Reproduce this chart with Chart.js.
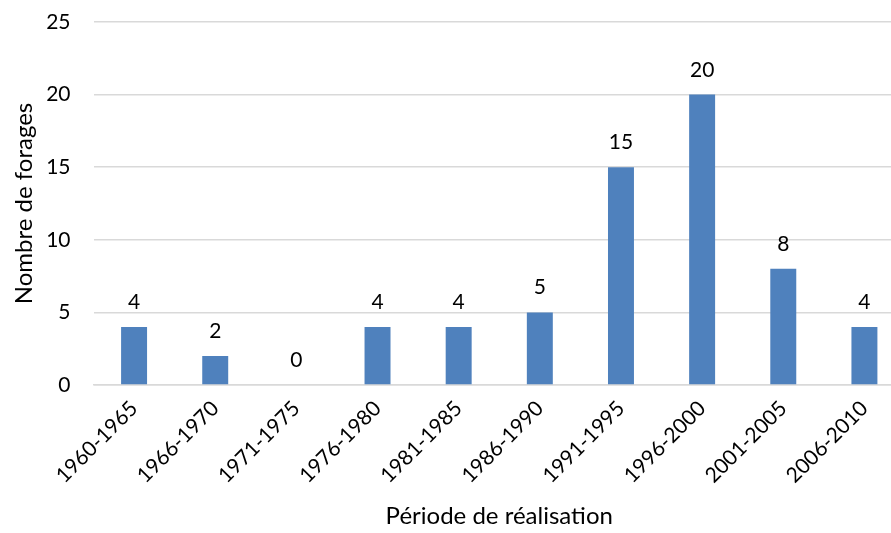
<!DOCTYPE html>
<html>
<head>
<meta charset="utf-8">
<script src="https://cdn.jsdelivr.net/npm/chart.js@4/dist/chart.umd.min.js"></script>
<style>
html,body{margin:0;padding:0;background:#fff;overflow:hidden;}
#wrap{position:absolute;left:0;top:0;width:905px;height:533px;}
</style>
</head>
<body>
<div id="wrap"><canvas id="c" width="905" height="533"></canvas></div>
<script>
const categories = ['1960-1965','1966-1970','1971-1975','1976-1980','1981-1985','1986-1990','1991-1995','1996-2000','2001-2005','2006-2010'];
const forages = [4, 2, 0, 4, 4, 5, 15, 20, 8, 4];
const yTicks = [0, 5, 10, 15, 20, 25];

const FONT = 'Lato, "Open Sans", sans-serif';

const valueLabels = {
  id: 'valueLabels',
  afterDatasetsDraw(chart) {
    const ctx = chart.ctx;
    const meta = chart.getDatasetMeta(0);
    ctx.save();
    ctx.font = '21px ' + FONT;
    ctx.fillStyle = '#000';
    ctx.textAlign = 'center';
    ctx.textBaseline = 'alphabetic';
    meta.data.forEach((bar, i) => {
      ctx.fillText(String(forages[i]), bar.x, bar.y - 18);
    });
    ctx.restore();
  }
};

new Chart(document.getElementById('c'), {
  type: 'bar',
  data: {
    labels: categories,
    datasets: [{
      data: forages,
      backgroundColor: '#4f81bd',
      borderWidth: 0,
      categoryPercentage: 1,
      barPercentage: 0.32
    }]
  },
  plugins: [valueLabels],
  options: {
    responsive: false,
    animation: false,
    events: [],
    layout: { padding: { top: 22, right: 0, left: 0, bottom: 0 } },
    plugins: { legend: { display: false }, tooltip: { enabled: false } },
    scales: {
      x: {
        grid: { display: false, drawTicks: false },
        border: { display: true, color: '#d9d9d9', width: 1.5 },
        ticks: {
          color: '#000',
          font: { family: FONT, size: 21 },
          minRotation: 45,
          maxRotation: 45,
          autoSkip: false,
          padding: 11
        },
        title: {
          display: true,
          text: 'Période de réalisation',
          color: '#000',
          font: { family: FONT, size: 24 },
          padding: { top: 0, bottom: 2 }
        },
        afterFit(s) { s.height = 148; }
      },
      y: {
        min: 0,
        max: 25,
        afterBuildTicks(s) { s.ticks = yTicks.map(v => ({ value: v })); },
        grid: { color: '#d9d9d9', lineWidth: 1.5, drawTicks: false },
        border: { display: false },
        ticks: {
          color: '#000',
          font: { family: FONT, size: 21 },
          padding: 23
        },
        title: {
          display: true,
          text: 'Nombre de forages',
          color: '#000',
          font: { family: FONT, size: 24 },
          padding: { top: 10, bottom: 0 }
        },
        afterFit(s) { s.width = 93.5; s.paddingTop = 0; s.paddingBottom = 0; }
      }
    }
  }
});
</script>
</body>
</html>
